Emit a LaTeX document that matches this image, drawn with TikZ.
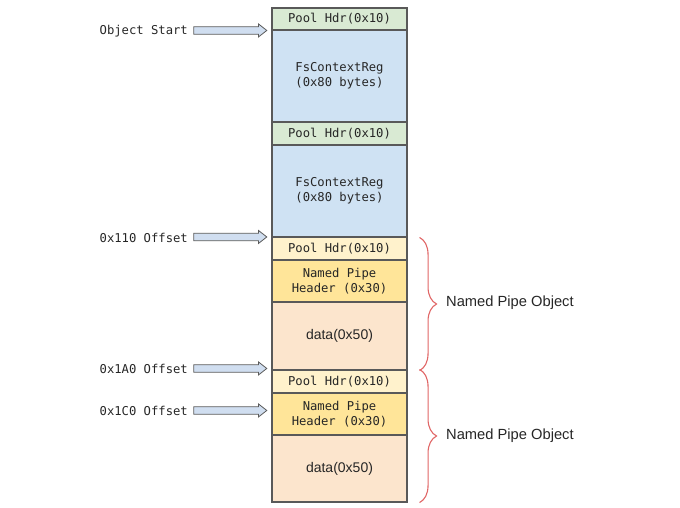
\documentclass[tikz,border=0pt]{standalone}
\usepackage{fontspec}
\setmainfont{Liberation Sans}
\newfontfamily\monofont{DejaVu Sans Mono}
\usetikzlibrary{shapes.arrows,decorations.pathreplacing,calc}
\definecolor{cellborder}{HTML}{595959}
\definecolor{txt}{HTML}{262626}
\definecolor{greenhdr}{HTML}{D9EAD3}
\definecolor{bluebody}{HTML}{CFE2F3}
\definecolor{yellowhdr}{HTML}{FFF2CC}
\definecolor{goldhdr}{HTML}{FFE599}
\definecolor{peach}{HTML}{FCE5CD}
\definecolor{arrowfill}{HTML}{D0DEF0}
\definecolor{arrowborder}{HTML}{5A5A5A}
\definecolor{bracered}{HTML}{E06666}
\begin{document}
\begin{tikzpicture}[x=1pt,y=-1pt,
  cell/.style={draw=cellborder, line width=1.1pt, minimum width=135pt, inner sep=0pt,
    align=center, text=txt, font=\monofont\fontsize{12.2}{15}\selectfont},
  sanscell/.style={cell, font=\fontsize{14}{16}\selectfont},
  lbl/.style={inner sep=0pt, text=txt, font=\monofont\fontsize{12.2}{15}\selectfont, anchor=east},
  blockarr/.style={single arrow, draw=arrowborder, fill=arrowfill, line width=0.8pt,
    minimum height=73pt, inner sep=3.3pt, single arrow head extend=2.8pt,
    single arrow head indent=0pt, single arrow tip angle=76, anchor=tip},
  bracestyle/.style={draw=bracered, line width=1.1pt,
    decorate, decoration={brace, amplitude=17pt}},
  objlbl/.style={inner sep=0pt, anchor=west, text=txt, font=\fontsize{14.7}{16}\selectfont}]
\useasboundingbox (0,0) rectangle (680,507);

% memory column
\node[cell, fill=greenhdr,  minimum height=22pt] (ph1)  at (339.5,19)    {Pool Hdr(0x10)};
\node[cell, fill=bluebody,  minimum height=92pt] (fs1)  at (339.5,76)    {FsContextReg\\(0x80 bytes)};
\node[cell, fill=greenhdr,  minimum height=23pt] (ph2)  at (339.5,133.5) {Pool Hdr(0x10)};
\node[cell, fill=bluebody,  minimum height=92pt] (fs2)  at (339.5,191)   {FsContextReg\\(0x80 bytes)};
\node[cell, fill=yellowhdr, minimum height=23pt] (ph3)  at (339.5,248.5) {Pool Hdr(0x10)};
\node[cell, fill=goldhdr,   minimum height=42pt] (nph1) at (339.5,281)   {Named Pipe\\Header (0x30)};
\node[sanscell, fill=peach, minimum height=68pt] (d1)   at (339.5,336)   {data(0x50)};
\node[cell, fill=yellowhdr, minimum height=23pt] (ph4)  at (339.5,381.5) {Pool Hdr(0x10)};
\node[cell, fill=goldhdr,   minimum height=42pt] (nph2) at (339.5,414)   {Named Pipe\\Header (0x30)};
\node[sanscell, fill=peach, minimum height=67pt] (d2)   at (339.5,468.5) {data(0x50)};

% offset labels and arrows
\node[lbl] (los)  at (188,31)  {Object Start};
\node[lbl] (l110) at (188,238) {0x110 Offset};
\node[lbl] (l1a0) at (188,369) {0x1A0 Offset};
\node[lbl] (l1c0) at (188,411) {0x1C0 Offset};

\node[blockarr] (aos)  at ($(fs1.north west)+(-4,1)$)  {};
\node[blockarr] (a110) at ($(ph3.north west)+(-4,0.5)$) {};
\node[blockarr] (a1a0) at ($(ph4.north west)+(-4,-1)$) {};
\node[blockarr] (a1c0) at ($(nph2.north west)+(-4,18)$) {};

% braces
\coordinate (b1top) at ($(ph3.north east)+(12,1)$);
\coordinate (b1bot) at ($(d1.south east)+(12,0)$);
\coordinate (b2top) at ($(ph4.north east)+(12,0)$);
\coordinate (b2bot) at ($(d2.south east)+(12,0)$);
\draw[bracestyle] (b1top) -- (b1bot);
\draw[bracestyle] (b2top) -- (b2bot);
\node[objlbl] (npo1) at (446,303) {Named Pipe Object};
\node[objlbl] (npo2) at (446,436) {Named Pipe Object};
\end{tikzpicture}
\end{document}
